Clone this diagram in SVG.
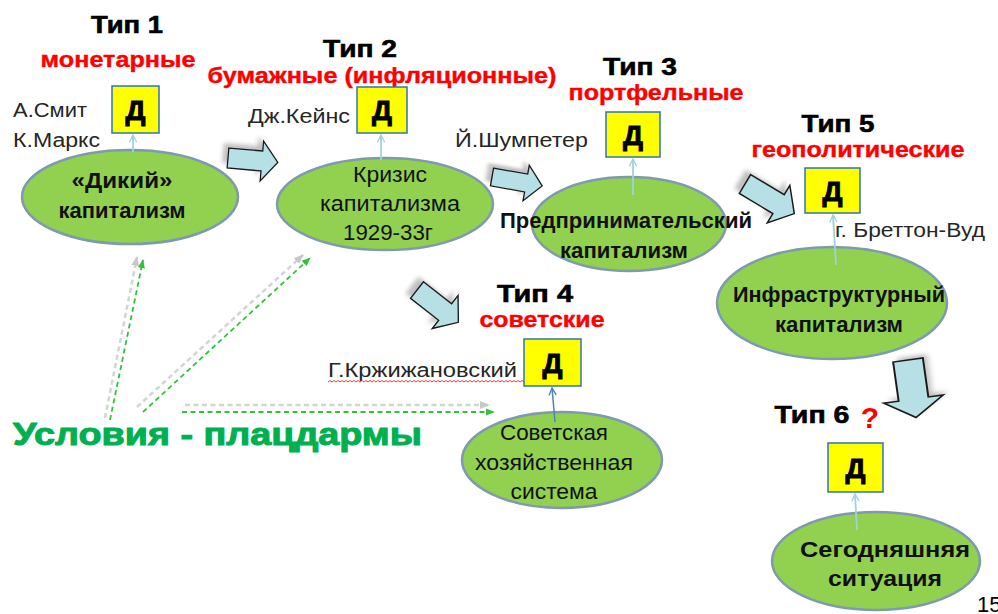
<svg xmlns="http://www.w3.org/2000/svg" width="998" height="614" viewBox="0 0 998 614">
<defs>
<style>
text{font-family:"Liberation Sans",Arial,sans-serif}
.tip{font-size:24px;font-weight:bold;fill:#000;stroke:#000;stroke-width:.6;text-anchor:middle}
.red{font-size:22px;font-weight:bold;fill:#ff0000;stroke:#ff0000;stroke-width:.4;text-anchor:middle}
.auth{font-size:19.5px;fill:#262626}
.nb{font-size:21.5px;font-weight:bold;fill:#111;text-anchor:middle}
.nr{font-size:21.5px;fill:#111;text-anchor:middle}
.d{font-size:28px;font-weight:bold;fill:#000;stroke:#000;stroke-width:1;text-anchor:middle}
.ell{fill:#92d050;stroke:#7f9aae;stroke-width:2.5}
.box{fill:#ffff00;stroke:#2e75b6;stroke-width:1.5}
.blk{fill:#b7dfe6;stroke:#1a1a1a;stroke-width:1.3;stroke-linejoin:miter}
.shd{fill:#8c8c8c;opacity:.55;filter:url(#blur)}
.up{stroke:#9fd3dc;stroke-width:1.8;fill:none;marker-end:url(#open)}
.gd{stroke:#33c23a;stroke-width:1.8;fill:none;stroke-dasharray:5 3.5;marker-end:url(#gh)}
.gy{stroke:#d4d4d4;stroke-width:2.5;fill:none;stroke-dasharray:5 3.5;marker-end:url(#gyh)}
</style>
<filter id="blur" x="-30%" y="-30%" width="160%" height="160%"><feGaussianBlur stdDeviation="2"/></filter>
<path id="ba" d="M0,-10 H34 V-20 L50,0 L34,20 V10 H0 Z"/>
<marker id="open" viewBox="0 0 10 10" refX="9" refY="5" markerWidth="9" markerHeight="9" markerUnits="userSpaceOnUse" orient="auto"><path d="M1,1 L9,5 L1,9" fill="none" stroke="#9fd3dc" stroke-width="1.5"/></marker>
<marker id="open2" viewBox="0 0 10 10" refX="9" refY="5" markerWidth="9" markerHeight="9" markerUnits="userSpaceOnUse" orient="auto"><path d="M1,1 L9,5 L1,9" fill="none" stroke="#4f81bd" stroke-width="1.5"/></marker>
<marker id="gh" viewBox="0 0 10 10" refX="9" refY="5" markerWidth="9" markerHeight="9" markerUnits="userSpaceOnUse" orient="auto"><path d="M0,1 L10,5 L0,9 Z" fill="#33c23a"/></marker>
<marker id="gyh" viewBox="0 0 10 10" refX="9" refY="5" markerWidth="10" markerHeight="10" markerUnits="userSpaceOnUse" orient="auto"><path d="M0,1 L10,5 L0,9 Z" fill="#c8c8c8"/></marker>
</defs>
<rect width="998" height="614" fill="#ffffff"/>

<g id="connectors">
  <g id="block-arrows">
    <use href="#ba" class="shd" transform="translate(-5,-5) translate(228,158) rotate(5)"/>
    <use href="#ba" class="blk" transform="translate(228,158) rotate(5)"/>
    <use href="#ba" class="shd" transform="translate(-5,-5) translate(492,177) rotate(10) scale(1.02,0.9)"/>
    <use href="#ba" class="blk" transform="translate(492,177) rotate(10) scale(1.02,0.9)"/>
    <use href="#ba" class="shd" transform="translate(-5,-5) translate(745,184) rotate(31) scale(1.15,1.1)"/>
    <use href="#ba" class="blk" transform="translate(745,184) rotate(31) scale(1.15,1.1)"/>
    <use href="#ba" class="shd" transform="translate(-5,-5) translate(417,290) rotate(38) scale(1.05,1.05)"/>
    <use href="#ba" class="blk" transform="translate(417,290) rotate(38) scale(1.05,1.05)"/>
    <use href="#ba" class="shd" transform="translate(4,-4) translate(908,360) rotate(82) scale(1.16,1.5)"/>
    <use href="#ba" class="blk" transform="translate(908,360) rotate(82) scale(1.16,1.5)"/>
  </g>
  <g id="dashed-arrows">
    <line class="gy" x1="105" y1="418" x2="137" y2="257"/>
    <line class="gy" x1="137" y1="407" x2="303" y2="255"/>
    <line class="gy" x1="185" y1="405" x2="489" y2="405"/>
    <line class="gd" x1="110" y1="420" x2="143" y2="260"/>
    <line class="gd" x1="143" y1="412" x2="310" y2="258"/>
    <line class="gd" x1="182" y1="412" x2="494" y2="412"/>
  </g>
</g>

<g id="node-t1">
  <text class="tip" x="127" y="33" textLength="72" lengthAdjust="spacingAndGlyphs">Тип 1</text>
  <text class="red" x="118" y="67" textLength="155" lengthAdjust="spacingAndGlyphs">монетарные</text>
  <text class="auth" x="13" y="117" textLength="74" lengthAdjust="spacingAndGlyphs">А.Смит</text>
  <text class="auth" x="13" y="147" textLength="87" lengthAdjust="spacingAndGlyphs">К.Маркс</text>
  <rect class="box" x="112" y="86" width="47" height="47"/>
  <text class="d" x="135.5" y="120">Д</text>
  <ellipse class="ell" cx="130" cy="197" rx="108" ry="47"/>
  <line class="up" x1="133" y1="152" x2="133" y2="135"/>
  <text class="nb" x="122" y="188" textLength="101" lengthAdjust="spacingAndGlyphs">«Дикий»</text>
  <text class="nb" x="122" y="218" textLength="127" lengthAdjust="spacingAndGlyphs">капитализм</text>
</g>

<g id="node-t2">
  <text class="tip" x="360" y="57" textLength="74" lengthAdjust="spacingAndGlyphs">Тип 2</text>
  <text class="red" x="382" y="83" textLength="349" lengthAdjust="spacingAndGlyphs">бумажные (инфляционные)</text>
  <text class="auth" x="248" y="123" textLength="102" lengthAdjust="spacingAndGlyphs">Дж.Кейнс</text>
  <rect class="box" x="357" y="87" width="50" height="46"/>
  <text class="d" x="382" y="120">Д</text>
  <ellipse class="ell" cx="385" cy="204" rx="108" ry="46"/>
  <line class="up" x1="381" y1="160" x2="381" y2="135"/>
  <text class="nr" x="390" y="182" textLength="74" lengthAdjust="spacingAndGlyphs">Кризис</text>
  <text class="nr" x="390" y="211" textLength="140" lengthAdjust="spacingAndGlyphs">капитализма</text>
  <text class="nr" x="388" y="240" textLength="90" lengthAdjust="spacingAndGlyphs">1929-33г</text>
</g>

<g id="node-t3">
  <text class="tip" x="640" y="75" textLength="74" lengthAdjust="spacingAndGlyphs">Тип 3</text>
  <text class="red" x="656" y="100" textLength="175" lengthAdjust="spacingAndGlyphs">портфельные</text>
  <text class="auth" x="455" y="147" textLength="133" lengthAdjust="spacingAndGlyphs">Й.Шумпетер</text>
  <rect class="box" x="606" y="112" width="54" height="45"/>
  <text class="d" x="633" y="145">Д</text>
  <ellipse class="ell" cx="629" cy="224" rx="97" ry="47"/>
  <line class="up" x1="633" y1="195" x2="633" y2="159"/>
  <text class="nb" x="626" y="228" textLength="252" lengthAdjust="spacingAndGlyphs">Предпринимательский</text>
  <text class="nb" x="624" y="258" textLength="128" lengthAdjust="spacingAndGlyphs">капитализм</text>
</g>

<g id="node-t5">
  <text class="tip" x="838" y="132" textLength="73" lengthAdjust="spacingAndGlyphs">Тип 5</text>
  <text class="red" x="858" y="157" textLength="213" lengthAdjust="spacingAndGlyphs">геополитические</text>
  <text class="auth" x="835" y="237" textLength="150" lengthAdjust="spacingAndGlyphs">г. Бреттон-Вуд</text>
  <rect class="box" x="805" y="168" width="55" height="45"/>
  <text class="d" x="832.5" y="201">Д</text>
  <ellipse class="ell" cx="832" cy="303" rx="115" ry="56"/>
  <line class="up" x1="836" y1="265" x2="833" y2="215"/>
  <text class="nb" x="839" y="302" textLength="212" lengthAdjust="spacingAndGlyphs">Инфраструктурный</text>
  <text class="nb" x="839" y="332" textLength="128" lengthAdjust="spacingAndGlyphs">капитализм</text>
</g>

<g id="node-t4">
  <text class="tip" x="535" y="302" textLength="76" lengthAdjust="spacingAndGlyphs">Тип 4</text>
  <text class="red" x="542" y="327" textLength="125" lengthAdjust="spacingAndGlyphs">советские</text>
  <text class="auth" x="328" y="377" textLength="189" lengthAdjust="spacingAndGlyphs">Г.Кржижановский</text>
  <path d="M328,382 l2,-1.5 l2,1.5 l2,-1.5 l2,1.5 l2,-1.5 l2,1.5 l2,-1.5 l2,1.5 l2,-1.5 l2,1.5 l2,-1.5 l2,1.5 l2,-1.5 l2,1.5 l2,-1.5 l2,1.5 l2,-1.5 l2,1.5 l2,-1.5 l2,1.5 l2,-1.5 l2,1.5 l2,-1.5 l2,1.5 l2,-1.5 l2,1.5 l2,-1.5 l2,1.5 l2,-1.5 l2,1.5 l2,-1.5 l2,1.5 l2,-1.5 l2,1.5 l2,-1.5 l2,1.5 l2,-1.5 l2,1.5 l2,-1.5 l2,1.5 l2,-1.5 l2,1.5 l2,-1.5 l2,1.5 l2,-1.5 l2,1.5 l2,-1.5 l2,1.5 l2,-1.5 l2,1.5 l2,-1.5 l2,1.5 l2,-1.5 l2,1.5 l2,-1.5 l2,1.5 l2,-1.5 l2,1.5 l2,-1.5 l2,1.5 l2,-1.5 l2,1.5 l2,-1.5 l2,1.5 l2,-1.5 l2,1.5 l2,-1.5 l2,1.5 l2,-1.5 l2,1.5 l2,-1.5 l2,1.5 l2,-1.5 l2,1.5 l2,-1.5 l2,1.5 l2,-1.5 l2,1.5 l2,-1.5 l2,1.5 l2,-1.5 l2,1.5 l2,-1.5 l2,1.5 l2,-1.5 l2,1.5 l2,-1.5 l2,1.5 l2,-1.5 l2,1.5 l2,-1.5 l2,1.5 l2,-1.5 l2,1.5 l2,-1.5 l2,1.5 l2,-1.5 l2,1.5 l2,-1.5 l2,1.5 l2,-1.5" fill="none" stroke="#ff3b3b" stroke-width="1"/>
  <rect class="box" x="524" y="339" width="57" height="47"/>
  <text class="d" x="552.5" y="373">Д</text>
  <ellipse class="ell" cx="562" cy="460" rx="100" ry="48"/>
  <line x1="555" y1="422" x2="552" y2="388" stroke="#4f81bd" stroke-width="1.5" marker-end="url(#open2)"/>
  <text class="nr" x="554" y="440" textLength="108" lengthAdjust="spacingAndGlyphs">Советская</text>
  <text class="nr" x="554" y="470" textLength="158" lengthAdjust="spacingAndGlyphs">хозяйственная</text>
  <text class="nr" x="554" y="499" textLength="87" lengthAdjust="spacingAndGlyphs">система</text>
</g>

<g id="node-t6">
  <text class="tip" x="812" y="423" textLength="75" lengthAdjust="spacingAndGlyphs">Тип 6</text>
  <text x="870" y="428" font-size="30" font-weight="bold" fill="#ff0000" text-anchor="middle">?</text>
  <rect class="box" x="828" y="443" width="55" height="49"/>
  <text class="d" x="855.5" y="478">Д</text>
  <ellipse class="ell" cx="876" cy="561" rx="104" ry="49"/>
  <line class="up" x1="857" y1="530" x2="855" y2="494"/>
  <text class="nb" x="885" y="557" textLength="170" lengthAdjust="spacingAndGlyphs">Сегодняшняя</text>
  <text class="nb" x="885" y="586" textLength="114" lengthAdjust="spacingAndGlyphs">ситуация</text>
</g>

<g id="conditions">
  <text x="13" y="445" font-size="31" font-weight="bold" fill="#00b050" stroke="#00b050" stroke-width="1" textLength="409" lengthAdjust="spacingAndGlyphs">Условия - плацдармы</text>
</g>
<text x="977" y="612" font-size="22" fill="#000">15</text>
</svg>
